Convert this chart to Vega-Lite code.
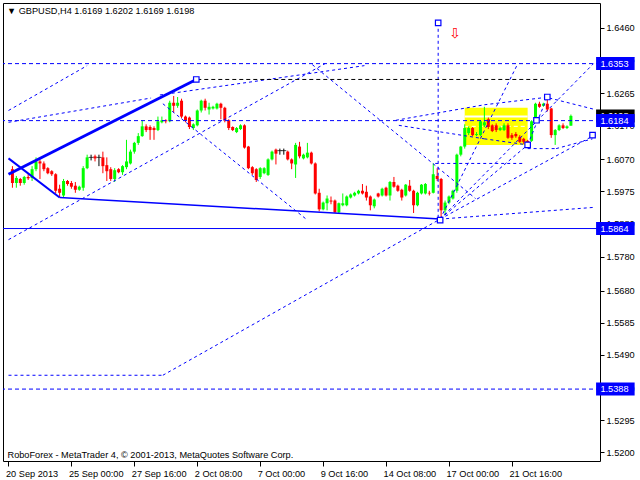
{
  "$schema": "https://vega.github.io/schema/vega-lite/v6.json",
  "width": 597,
  "height": 458,
  "autosize": {"type": "none"},
  "padding": {"left": 3, "top": 3, "right": 40, "bottom": 19},
  "background": "white",
  "title": {"text": "▼ GBPUSD,H4  1.6169 1.6202 1.6169 1.6198", "anchor": "start", "frame": "group", "offset": -13, "dx": 4, "fontSize": 9.2, "font": "Liberation Sans", "fontWeight": "normal", "color": "black"},
  "config": {
    "view": {"stroke": "black", "strokeWidth": 1},
    "axis": {"grid": false, "domain": false, "labelFont": "Liberation Sans", "labelFontSize": 9.2, "labelColor": "black", "tickColor": "black"},
    "text": {"font": "Liberation Sans"}
  },
  "datasets": {
    "candles": [
      {"i":0,"o":1.6040,"h":1.6049,"l":1.5985,"c":1.5999},
      {"i":1,"o":1.5999,"h":1.6020,"l":1.5985,"c":1.6014},
      {"i":2,"o":1.6011,"h":1.6014,"l":1.5991,"c":1.5999},
      {"i":3,"o":1.5999,"h":1.6020,"l":1.5994,"c":1.6017},
      {"i":4,"o":1.6017,"h":1.6025,"l":1.6008,"c":1.6013},
      {"i":5,"o":1.6014,"h":1.6049,"l":1.6005,"c":1.6040},
      {"i":6,"o":1.6040,"h":1.6075,"l":1.6034,"c":1.6063},
      {"i":7,"o":1.6063,"h":1.6069,"l":1.6011,"c":1.6057},
      {"i":8,"o":1.6057,"h":1.6063,"l":1.6034,"c":1.6040},
      {"i":9,"o":1.6043,"h":1.6046,"l":1.6025,"c":1.6028},
      {"i":10,"o":1.6034,"h":1.6037,"l":1.6020,"c":1.6025},
      {"i":11,"o":1.6025,"h":1.6028,"l":1.5968,"c":1.5976},
      {"i":12,"o":1.5982,"h":1.5994,"l":1.5956,"c":1.5970},
      {"i":13,"o":1.5962,"h":1.6011,"l":1.5956,"c":1.6005},
      {"i":14,"o":1.6005,"h":1.6008,"l":1.5991,"c":1.5996},
      {"i":15,"o":1.5999,"h":1.6005,"l":1.5982,"c":1.5988},
      {"i":16,"o":1.5991,"h":1.6002,"l":1.5970,"c":1.5979},
      {"i":17,"o":1.5979,"h":1.5991,"l":1.5976,"c":1.5988},
      {"i":18,"o":1.5985,"h":1.6049,"l":1.5976,"c":1.6043},
      {"i":19,"o":1.6043,"h":1.6083,"l":1.6040,"c":1.6075},
      {"i":20,"o":1.6075,"h":1.6083,"l":1.6066,"c":1.6075},
      {"i":21,"o":1.6078,"h":1.6083,"l":1.6063,"c":1.6072},
      {"i":22,"o":1.6075,"h":1.6083,"l":1.6049,"c":1.6075},
      {"i":23,"o":1.6075,"h":1.6092,"l":1.6028,"c":1.6049},
      {"i":24,"o":1.6052,"h":1.6075,"l":1.6005,"c":1.6034},
      {"i":25,"o":1.6040,"h":1.6046,"l":1.6005,"c":1.6011},
      {"i":26,"o":1.6011,"h":1.6043,"l":1.6002,"c":1.6037},
      {"i":27,"o":1.6040,"h":1.6043,"l":1.6028,"c":1.6031},
      {"i":28,"o":1.6031,"h":1.6052,"l":1.6023,"c":1.6049},
      {"i":29,"o":1.6046,"h":1.6127,"l":1.6040,"c":1.6063},
      {"i":30,"o":1.6057,"h":1.6098,"l":1.6054,"c":1.6092},
      {"i":31,"o":1.6092,"h":1.6121,"l":1.6086,"c":1.6118},
      {"i":32,"o":1.6118,"h":1.6147,"l":1.6112,"c":1.6138},
      {"i":33,"o":1.6138,"h":1.6185,"l":1.6136,"c":1.6167},
      {"i":34,"o":1.6167,"h":1.6173,"l":1.6150,"c":1.6156},
      {"i":35,"o":1.6165,"h":1.6170,"l":1.6127,"c":1.6156},
      {"i":36,"o":1.6162,"h":1.6167,"l":1.6127,"c":1.6156},
      {"i":37,"o":1.6156,"h":1.6196,"l":1.6153,"c":1.6182},
      {"i":38,"o":1.6179,"h":1.6196,"l":1.6176,"c":1.6185},
      {"i":39,"o":1.6185,"h":1.6188,"l":1.6176,"c":1.6182},
      {"i":40,"o":1.6182,"h":1.6243,"l":1.6179,"c":1.6237},
      {"i":41,"o":1.6237,"h":1.6257,"l":1.6208,"c":1.6228},
      {"i":42,"o":1.6228,"h":1.6254,"l":1.6222,"c":1.6237},
      {"i":43,"o":1.6243,"h":1.6249,"l":1.6191,"c":1.6196},
      {"i":44,"o":1.6196,"h":1.6199,"l":1.6179,"c":1.6185},
      {"i":45,"o":1.6193,"h":1.6196,"l":1.6159,"c":1.6165},
      {"i":46,"o":1.6162,"h":1.6176,"l":1.6156,"c":1.6173},
      {"i":47,"o":1.6170,"h":1.6217,"l":1.6167,"c":1.6214},
      {"i":48,"o":1.6214,"h":1.6246,"l":1.6208,"c":1.6243},
      {"i":49,"o":1.6243,"h":1.6249,"l":1.6214,"c":1.6222},
      {"i":50,"o":1.6217,"h":1.6237,"l":1.6202,"c":1.6225},
      {"i":51,"o":1.6220,"h":1.6228,"l":1.6217,"c":1.6225},
      {"i":52,"o":1.6220,"h":1.6237,"l":1.6217,"c":1.6234},
      {"i":53,"o":1.6234,"h":1.6237,"l":1.6188,"c":1.6222},
      {"i":54,"o":1.6222,"h":1.6225,"l":1.6179,"c":1.6185},
      {"i":55,"o":1.6185,"h":1.6188,"l":1.6156,"c":1.6162},
      {"i":56,"o":1.6165,"h":1.6167,"l":1.6153,"c":1.6156},
      {"i":57,"o":1.6150,"h":1.6165,"l":1.6147,"c":1.6162},
      {"i":58,"o":1.6159,"h":1.6173,"l":1.6156,"c":1.6170},
      {"i":59,"o":1.6170,"h":1.6173,"l":1.6101,"c":1.6104},
      {"i":60,"o":1.6107,"h":1.6109,"l":1.6040,"c":1.6043},
      {"i":61,"o":1.6046,"h":1.6049,"l":1.6023,"c":1.6028},
      {"i":62,"o":1.6040,"h":1.6043,"l":1.6002,"c":1.6008},
      {"i":63,"o":1.6017,"h":1.6046,"l":1.6011,"c":1.6043},
      {"i":64,"o":1.6028,"h":1.6046,"l":1.6025,"c":1.6043},
      {"i":65,"o":1.6023,"h":1.6072,"l":1.6020,"c":1.6069},
      {"i":66,"o":1.6069,"h":1.6095,"l":1.6066,"c":1.6092},
      {"i":67,"o":1.6098,"h":1.6101,"l":1.6054,"c":1.6086},
      {"i":68,"o":1.6095,"h":1.6101,"l":1.6083,"c":1.6095},
      {"i":69,"o":1.6095,"h":1.6101,"l":1.6083,"c":1.6095},
      {"i":70,"o":1.6092,"h":1.6095,"l":1.6066,"c":1.6069},
      {"i":71,"o":1.6069,"h":1.6072,"l":1.6040,"c":1.6057},
      {"i":72,"o":1.6054,"h":1.6118,"l":1.6014,"c":1.6112},
      {"i":73,"o":1.6107,"h":1.6121,"l":1.6072,"c":1.6078},
      {"i":74,"o":1.6072,"h":1.6086,"l":1.6069,"c":1.6083},
      {"i":75,"o":1.6075,"h":1.6118,"l":1.6072,"c":1.6089},
      {"i":76,"o":1.6089,"h":1.6092,"l":1.6054,"c":1.6057},
      {"i":77,"o":1.6057,"h":1.6060,"l":1.5965,"c":1.5968},
      {"i":78,"o":1.5970,"h":1.5982,"l":1.5915,"c":1.5921},
      {"i":79,"o":1.5921,"h":1.5944,"l":1.5918,"c":1.5941},
      {"i":80,"o":1.5939,"h":1.5962,"l":1.5918,"c":1.5953},
      {"i":81,"o":1.5947,"h":1.5959,"l":1.5936,"c":1.5944},
      {"i":82,"o":1.5947,"h":1.5950,"l":1.5910,"c":1.5912},
      {"i":83,"o":1.5912,"h":1.5941,"l":1.5907,"c":1.5939},
      {"i":84,"o":1.5933,"h":1.5968,"l":1.5930,"c":1.5939},
      {"i":85,"o":1.5933,"h":1.5962,"l":1.5930,"c":1.5959},
      {"i":86,"o":1.5956,"h":1.5968,"l":1.5953,"c":1.5965},
      {"i":87,"o":1.5962,"h":1.5973,"l":1.5959,"c":1.5970},
      {"i":88,"o":1.5968,"h":1.5979,"l":1.5965,"c":1.5976},
      {"i":89,"o":1.5976,"h":1.5996,"l":1.5965,"c":1.5968},
      {"i":90,"o":1.5973,"h":1.5991,"l":1.5947,"c":1.5956},
      {"i":91,"o":1.5959,"h":1.5962,"l":1.5918,"c":1.5933},
      {"i":92,"o":1.5930,"h":1.5953,"l":1.5924,"c":1.5950},
      {"i":93,"o":1.5968,"h":1.5970,"l":1.5956,"c":1.5959},
      {"i":94,"o":1.5962,"h":1.5985,"l":1.5959,"c":1.5982},
      {"i":95,"o":1.5985,"h":1.5988,"l":1.5959,"c":1.5962},
      {"i":96,"o":1.5962,"h":1.6005,"l":1.5947,"c":1.6002},
      {"i":97,"o":1.6002,"h":1.6017,"l":1.5985,"c":1.5988},
      {"i":98,"o":1.5991,"h":1.5994,"l":1.5973,"c":1.5976},
      {"i":99,"o":1.5979,"h":1.5982,"l":1.5947,"c":1.5956},
      {"i":100,"o":1.5962,"h":1.5996,"l":1.5959,"c":1.5994},
      {"i":101,"o":1.5991,"h":1.6008,"l":1.5973,"c":1.5976},
      {"i":102,"o":1.5976,"h":1.5979,"l":1.5910,"c":1.5933},
      {"i":103,"o":1.5933,"h":1.5973,"l":1.5930,"c":1.5970},
      {"i":104,"o":1.5968,"h":1.5996,"l":1.5965,"c":1.5994},
      {"i":105,"o":1.5968,"h":1.5999,"l":1.5965,"c":1.5996},
      {"i":106,"o":1.5970,"h":1.5976,"l":1.5962,"c":1.5968},
      {"i":107,"o":1.5970,"h":1.6057,"l":1.5968,"c":1.6025},
      {"i":108,"o":1.6020,"h":1.6043,"l":1.6005,"c":1.6011},
      {"i":109,"o":1.6011,"h":1.6014,"l":1.5892,"c":1.5918},
      {"i":110,"o":1.5918,"h":1.5947,"l":1.5904,"c":1.5941},
      {"i":111,"o":1.5941,"h":1.5962,"l":1.5936,"c":1.5959},
      {"i":112,"o":1.5953,"h":1.5979,"l":1.5950,"c":1.5976},
      {"i":113,"o":1.5976,"h":1.6086,"l":1.5970,"c":1.6083},
      {"i":114,"o":1.6083,"h":1.6109,"l":1.6078,"c":1.6107},
      {"i":115,"o":1.6107,"h":1.6173,"l":1.6101,"c":1.6162},
      {"i":116,"o":1.6147,"h":1.6167,"l":1.6141,"c":1.6162},
      {"i":117,"o":1.6162,"h":1.6165,"l":1.6138,"c":1.6141},
      {"i":118,"o":1.6141,"h":1.6150,"l":1.6138,"c":1.6144},
      {"i":119,"o":1.6141,"h":1.6185,"l":1.6138,"c":1.6182},
      {"i":120,"o":1.6170,"h":1.6225,"l":1.6165,"c":1.6179},
      {"i":121,"o":1.6188,"h":1.6193,"l":1.6159,"c":1.6165},
      {"i":122,"o":1.6170,"h":1.6173,"l":1.6150,"c":1.6153},
      {"i":123,"o":1.6170,"h":1.6176,"l":1.6150,"c":1.6156},
      {"i":124,"o":1.6156,"h":1.6167,"l":1.6153,"c":1.6162},
      {"i":125,"o":1.6156,"h":1.6176,"l":1.6153,"c":1.6170},
      {"i":126,"o":1.6170,"h":1.6176,"l":1.6130,"c":1.6133},
      {"i":127,"o":1.6141,"h":1.6147,"l":1.6127,"c":1.6133},
      {"i":128,"o":1.6144,"h":1.6150,"l":1.6133,"c":1.6138},
      {"i":129,"o":1.6136,"h":1.6141,"l":1.6118,"c":1.6121},
      {"i":130,"o":1.6130,"h":1.6133,"l":1.6115,"c":1.6121},
      {"i":131,"o":1.6124,"h":1.6127,"l":1.6112,"c":1.6118},
      {"i":132,"o":1.6124,"h":1.6185,"l":1.6121,"c":1.6182},
      {"i":133,"o":1.6182,"h":1.6237,"l":1.6179,"c":1.6234},
      {"i":134,"o":1.6234,"h":1.6240,"l":1.6222,"c":1.6225},
      {"i":135,"o":1.6228,"h":1.6237,"l":1.6225,"c":1.6234},
      {"i":136,"o":1.6234,"h":1.6254,"l":1.6211,"c":1.6217},
      {"i":137,"o":1.6220,"h":1.6222,"l":1.6133,"c":1.6141},
      {"i":138,"o":1.6141,"h":1.6159,"l":1.6112,"c":1.6156},
      {"i":139,"o":1.6156,"h":1.6173,"l":1.6153,"c":1.6170},
      {"i":140,"o":1.6170,"h":1.6176,"l":1.6159,"c":1.6162},
      {"i":141,"o":1.6162,"h":1.6170,"l":1.6159,"c":1.6167},
      {"i":142,"o":1.6169,"h":1.6202,"l":1.6169,"c":1.6198}
    ],
    "dashLevels": [{"p": 1.6353}, {"p": 1.6184}, {"p": 1.5388}],
    "solidLevels": [{"p": 1.5864}],
    "dashSeg": [
      {"a": -1, "p1": 1.6214, "b": 19, "p2": 1.6347},
      {"a": -1, "p1": 1.6179, "b": 35.25, "p2": 1.6251},
      {"a": 37.5, "p1": 1.6260, "b": 89.5, "p2": 1.6347},
      {"a": -1, "p1": 1.5831, "b": 79.5, "p2": 1.6353},
      {"a": 38.25, "p1": 1.6234, "b": 75, "p2": 1.5889},
      {"a": 76.25, "p1": 1.6350, "b": 117.75, "p2": 1.5953},
      {"a": 108.25, "p1": 1.6474, "b": 108.25, "p2": 1.5884},
      {"a": -1, "p1": 1.5429, "b": 38.25, "p2": 1.5429},
      {"a": 38.25, "p1": 1.5429, "b": 108.75, "p2": 1.5892},
      {"a": 107.5, "p1": 1.6057, "b": 130.25, "p2": 1.6057},
      {"a": 108.75, "p1": 1.5892, "b": 128.25, "p2": 1.6347},
      {"a": 108.75, "p1": 1.5892, "b": 147.75, "p2": 1.6353},
      {"a": 108.75, "p1": 1.5892, "b": 147.5, "p2": 1.6138},
      {"a": 108.75, "p1": 1.5892, "b": 148.1, "p2": 1.5927},
      {"a": 108.75, "p1": 1.5892, "b": 131, "p2": 1.6112},
      {"a": 97.5, "p1": 1.6185, "b": 120, "p2": 1.6231},
      {"a": 120, "p1": 1.6231, "b": 136.5, "p2": 1.6254},
      {"a": 136.5, "p1": 1.6251, "b": 148.1, "p2": 1.6217},
      {"a": 98.25, "p1": 1.6170, "b": 120, "p2": 1.6130},
      {"a": 120, "p1": 1.6130, "b": 131, "p2": 1.6112},
      {"a": 131, "p1": 1.6101, "b": 138.25, "p2": 1.6101},
      {"a": 138.25, "p1": 1.6101, "b": 147.5, "p2": 1.6130},
      {"a": 131, "p1": 1.6112, "b": 136, "p2": 1.6254}
    ],
    "thickSeg": [{"a": -1, "p1": 1.6025, "b": 46.75, "p2": 1.6306}],
    "mediumSeg": [{"a": -1, "p1": 1.6072, "b": 12, "p2": 1.5956}],
    "thinSeg": [{"a": 12, "p1": 1.5956, "b": 108.75, "p2": 1.5892}],
    "blackSeg": [{"a": 47, "p1": 1.6306, "b": 136, "p2": 1.6306}],
    "whiteSolid": [{"a": 115, "p1": 1.6196, "b": 131, "p2": 1.6196}],
    "whiteDash": [{"a": 115, "p1": 1.6167, "b": 131, "p2": 1.6167}],
    "zone": [{"a": 115, "b": 131, "p1": 1.6222, "p2": 1.6112}],
    "markers": [
      {"i": 46.75, "p": 1.6306},
      {"i": 108.25, "p": 1.6474},
      {"i": 108.75, "p": 1.5889},
      {"i": 131, "p": 1.6112},
      {"i": 133.25, "p": 1.6185},
      {"i": 136, "p": 1.6254},
      {"i": 147.5, "p": 1.6141}
    ],
    "arrow": [{"i": 112.5, "p": 1.6440, "s": "⇩"}],
    "tags": [
      {"p": 1.6198, "lab": "1.6198", "kind": "bid"},
      {"p": 1.6353, "lab": "1.6353", "kind": "level"},
      {"p": 1.6184, "lab": "1.6184", "kind": "level"},
      {"p": 1.5864, "lab": "1.5864", "kind": "level"},
      {"p": 1.5388, "lab": "1.5388", "kind": "level"}
    ]
  },
  "layer": [
    {
      "data": {"name": "zone"},
      "mark": {"type": "rect", "color": "#FFFF00", "opacity": 1},
      "encoding": {
        "x": {"field": "a", "type": "quantitative", "scale": {"domain": [-1.125, 148.125], "nice": false, "zero": false},
          "axis": {"values": [-1, 15, 31, 47, 63, 79, 95, 111, 127], "tickCount": 30, "labelAlign": "left", "labelBaseline": "top", "labelPadding": 3, "labelOffset": -3, "tickSize": 5, "labelFlush": false, "labelOverlap": false,
            "labelExpr": "['20 Sep 2013','25 Sep 00:00','27 Sep 16:00','2 Oct 08:00','7 Oct 00:00','9 Oct 16:00','14 Oct 08:00','17 Oct 00:00','21 Oct 16:00'][round((datum.value+1)/16)]",
            "title": "RoboForex - MetaTrader 4, © 2001-2013, MetaQuotes Software Corp.", "titleX": 4, "titleY": -2, "titleAlign": "left", "titleAnchor": "start", "titleBaseline": "bottom", "titleFont": "Liberation Sans", "titleFontSize": 9.2, "titleFontWeight": "normal", "titleColor": "black"}},
        "x2": {"field": "b"},
        "y": {"field": "p1", "type": "quantitative", "scale": {"domain": [1.51896, 1.65179], "nice": false, "zero": false},
          "axis": {"orient": "right", "values": [1.646, 1.6365, 1.6265, 1.617, 1.607, 1.5975, 1.588, 1.578, 1.568, 1.5585, 1.549, 1.539, 1.5295, 1.52], "tickCount": 40, "format": ".4f", "tickSize": 4, "labelPadding": 2, "labelOverlap": false, "title": null}},
        "y2": {"field": "p2"}
      }
    },
    {
      "data": {"name": "whiteSolid"},
      "mark": {"type": "rule", "color": "white", "strokeWidth": 2},
      "encoding": {
        "x": {"field": "a", "type": "quantitative"},
        "x2": {"field": "b"},
        "y": {"field": "p1", "type": "quantitative"},
        "y2": {"field": "p2"}
      }
    },
    {
      "data": {"name": "whiteDash"},
      "mark": {"type": "rule", "color": "white", "strokeWidth": 1, "strokeDash": [4, 3]},
      "encoding": {
        "x": {"field": "a", "type": "quantitative"},
        "x2": {"field": "b"},
        "y": {"field": "p1", "type": "quantitative"},
        "y2": {"field": "p2"}
      }
    },
    {
      "data": {"name": "candles"},
      "mark": {"type": "rule", "strokeWidth": 1},
      "encoding": {
        "x": {"field": "i", "type": "quantitative"},
        "y": {"field": "l", "type": "quantitative"},
        "y2": {"field": "h"},
        "color": {"condition": [{"test": "datum.c == datum.o", "value": "black"}, {"test": "datum.c > datum.o", "value": "#00FF00"}], "value": "#FF0000"}
      }
    },
    {
      "data": {"name": "candles"},
      "transform": [{"filter": "datum.c != datum.o"}],
      "mark": {"type": "bar", "size": 3, "orient": "vertical"},
      "encoding": {
        "x": {"field": "i", "type": "quantitative"},
        "y": {"field": "o", "type": "quantitative"},
        "y2": {"field": "c"},
        "color": {"condition": {"test": "datum.c > datum.o", "value": "#00FF00"}, "value": "#FF0000"}
      }
    },
    {
      "data": {"name": "candles"},
      "transform": [{"filter": "datum.c == datum.o"}],
      "mark": {"type": "tick", "orient": "horizontal", "size": 5, "thickness": 1, "color": "black"},
      "encoding": {
        "x": {"field": "i", "type": "quantitative"},
        "y": {"field": "o", "type": "quantitative"}
      }
    },
    {
      "data": {"name": "dashLevels"},
      "mark": {"type": "rule", "color": "#0000FF", "strokeWidth": 1, "strokeDash": [4, 3]},
      "encoding": {"y": {"field": "p", "type": "quantitative"}}
    },
    {
      "data": {"name": "solidLevels"},
      "mark": {"type": "rule", "color": "#0000FF", "strokeWidth": 1},
      "encoding": {"y": {"field": "p", "type": "quantitative"}}
    },
    {
      "data": {"name": "dashSeg"},
      "mark": {"type": "rule", "color": "#0000FF", "strokeWidth": 1, "strokeDash": [3, 3], "clip": true},
      "encoding": {
        "x": {"field": "a", "type": "quantitative"},
        "x2": {"field": "b"},
        "y": {"field": "p1", "type": "quantitative"},
        "y2": {"field": "p2"}
      }
    },
    {
      "data": {"name": "blackSeg"},
      "mark": {"type": "rule", "color": "black", "strokeWidth": 1, "strokeDash": [4, 3]},
      "encoding": {
        "x": {"field": "a", "type": "quantitative"},
        "x2": {"field": "b"},
        "y": {"field": "p1", "type": "quantitative"},
        "y2": {"field": "p2"}
      }
    },
    {
      "data": {"name": "thickSeg"},
      "mark": {"type": "rule", "color": "#0000FF", "strokeWidth": 3, "clip": true},
      "encoding": {
        "x": {"field": "a", "type": "quantitative"},
        "x2": {"field": "b"},
        "y": {"field": "p1", "type": "quantitative"},
        "y2": {"field": "p2"}
      }
    },
    {
      "data": {"name": "mediumSeg"},
      "mark": {"type": "rule", "color": "#0000FF", "strokeWidth": 2, "clip": true},
      "encoding": {
        "x": {"field": "a", "type": "quantitative"},
        "x2": {"field": "b"},
        "y": {"field": "p1", "type": "quantitative"},
        "y2": {"field": "p2"}
      }
    },
    {
      "data": {"name": "thinSeg"},
      "mark": {"type": "rule", "color": "#0000FF", "strokeWidth": 1.5},
      "encoding": {
        "x": {"field": "a", "type": "quantitative"},
        "x2": {"field": "b"},
        "y": {"field": "p1", "type": "quantitative"},
        "y2": {"field": "p2"}
      }
    },
    {
      "data": {"name": "markers"},
      "mark": {"type": "square", "size": 30, "filled": false, "color": "#0000FF", "fill": "white", "fillOpacity": 1, "strokeWidth": 1.2, "opacity": 1},
      "encoding": {
        "x": {"field": "i", "type": "quantitative"},
        "y": {"field": "p", "type": "quantitative"}
      }
    },
    {
      "data": {"name": "arrow"},
      "mark": {"type": "text", "font": "DejaVu Sans", "fontSize": 14, "color": "#FF0000", "align": "center", "baseline": "middle"},
      "encoding": {
        "x": {"field": "i", "type": "quantitative"},
        "y": {"field": "p", "type": "quantitative"},
        "text": {"field": "s"}
      }
    },
    {
      "data": {"name": "tags"},
      "transform": [{"filter": "datum.kind == 'bid'"}],
      "mark": {"type": "bar", "orient": "horizontal", "size": 13, "color": "black"},
      "encoding": {
        "x": {"datum": 148.4, "type": "quantitative"},
        "x2": {"datum": 158.2},
        "y": {"field": "p", "type": "quantitative"}
      }
    },
    {
      "data": {"name": "tags"},
      "transform": [{"filter": "datum.kind == 'bid'"}],
      "mark": {"type": "text", "align": "left", "baseline": "middle", "fontSize": 9.2, "color": "white"},
      "encoding": {
        "x": {"datum": 149.5, "type": "quantitative"},
        "y": {"field": "p", "type": "quantitative"},
        "text": {"field": "lab"}
      }
    },
    {
      "data": {"name": "tags"},
      "transform": [{"filter": "datum.kind == 'level'"}],
      "mark": {"type": "bar", "orient": "horizontal", "size": 13, "color": "#0000FF"},
      "encoding": {
        "x": {"datum": 148.4, "type": "quantitative"},
        "x2": {"datum": 158.2},
        "y": {"field": "p", "type": "quantitative"}
      }
    },
    {
      "data": {"name": "tags"},
      "transform": [{"filter": "datum.kind == 'level'"}],
      "mark": {"type": "text", "align": "left", "baseline": "middle", "fontSize": 9.2, "color": "white"},
      "encoding": {
        "x": {"datum": 149.5, "type": "quantitative"},
        "y": {"field": "p", "type": "quantitative"},
        "text": {"field": "lab"}
      }
    }
  ]
}
